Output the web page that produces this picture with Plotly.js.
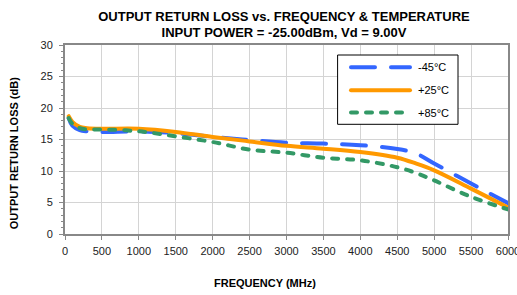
<!DOCTYPE html>
<html>
<head>
<meta charset="utf-8">
<script src="https://cdn.plot.ly/plotly-3.0.1.min.js"></script>
<style>
  html, body { margin: 0; padding: 0; background: #fff; }
  #chart { width: 517px; height: 295px; }
  .scatterlayer path.js-line, .shapelayer path { stroke-linecap: round; stroke-linejoin: round; }
</style>
</head>
<body>
<div id="chart"></div>
<script>
// Frequency points (MHz)
const freq = [50, 100, 200, 300, 500, 1000, 1500, 2000, 2500, 3000, 3500, 4000, 4500, 4750, 5000, 5500, 6000];
// Output return loss (dB) per temperature
const rlMinus45 = [18.4, 17.2, 16.5, 16.3, 16.2, 16.3, 16.0, 15.4, 14.9, 14.5, 14.35, 14.1, 13.5, 12.8, 11.2, 8.0, 4.9];
const rlPlus25  = [18.7, 17.8, 17.0, 16.8, 16.7, 16.7, 16.2, 15.4, 14.7, 14.0, 13.55, 13.0, 12.1, 11.2, 10.1, 7.2, 4.2];
const rlPlus85  = [18.4, 17.5, 16.8, 16.6, 16.6, 16.3, 15.5, 14.6, 13.4, 12.9, 12.1, 11.7, 10.6, 9.7, 8.5, 5.9, 3.9];
const seriesNames = ['-45°C', '+25°C', '+85°C'];
const xTicks = [0, 500, 1000, 1500, 2000, 2500, 3000, 3500, 4000, 4500, 5000, 5500, 6000];
const yTicks = [0, 5, 10, 15, 20, 25, 30];

const colors = ['#3366FF', '#FF9900', '#339966'];
const dashes = ['24px,16px', 'solid', '6px,9px'];
const series = [rlMinus45, rlPlus25, rlPlus85];
const FONT = 'Liberation Sans, Arial, sans-serif';

const traces = series.map((ys, i) => ({
  x: freq, y: ys, name: seriesNames[i], type: 'scatter', mode: 'lines',
  line: { color: colors[i], width: 4, dash: dashes[i], shape: 'spline', smoothing: 1 },
  showlegend: false, hoverinfo: 'skip'
}));

// plot area geometry (px) used only to place legend/titles
const PL = 65, PR = 508, PT = 44.7, PB = 233.7;
const PW = PR - PL, PH = PB - PT;
const px = v => (v - PL) / PW;
const py = v => (PB - v) / PH;

// Manual legend (box, samples, labels) in paper coordinates
const rowY = [67, 90, 112.3];
const shapes = [{
  type: 'rect', xref: 'paper', yref: 'paper', x0: px(338), x1: px(458), y0: py(124), y1: py(54.7),
  line: { color: '#000', width: 1 }, fillcolor: '#fff', layer: 'above'
}];
const annotations = [];
seriesNames.forEach((n, i) => {
  shapes.push({
    type: 'line', xref: 'paper', yref: 'paper', x0: px(351), x1: px(410), y0: py(rowY[i]), y1: py(rowY[i]),
    line: { color: colors[i], width: 4, dash: dashes[i] }, layer: 'above'
  });
  annotations.push({
    xref: 'paper', yref: 'paper', x: px(416), y: py(rowY[i]), xanchor: 'left', yanchor: 'middle',
    text: n, showarrow: false, font: { family: FONT, size: 11, color: '#000' }
  });
});
annotations.push({
  xref: 'paper', yref: 'paper', x: px(265), y: py(283), xanchor: 'center', yanchor: 'middle',
  text: '<b>FREQUENCY (MHz)</b>', showarrow: false,
  font: { family: FONT, size: 11, color: '#000' }
});
annotations.push({
  xref: 'paper', yref: 'paper', x: px(13.5), y: py(153.5), xanchor: 'center', yanchor: 'middle',
  text: '<b>OUTPUT RETURN LOSS (dB)</b>', showarrow: false, textangle: -90,
  font: { family: FONT, size: 11, color: '#000' }
});

const axisCommon = {
  showline: true, linecolor: '#888', linewidth: 2, mirror: true,
  showgrid: true, gridcolor: '#d4d4d4', gridwidth: 1, zeroline: false,
  ticks: 'outside', ticklen: 4, tickcolor: '#888', tickwidth: 1,
  tickfont: { family: FONT, size: 11, color: '#222' },
  ticklabeloverflow: 'allow',
  fixedrange: true
};

const layout = {
  width: 517, height: 295,
  margin: { l: PL, r: 517 - PR, t: PT, b: 295 - PB, pad: 0 },
  paper_bgcolor: '#fff', plot_bgcolor: '#fff',
  title: {
    text: '<b>OUTPUT RETURN LOSS vs. FREQUENCY &amp; TEMPERATURE<br>INPUT POWER = -25.00dBm, Vd = 9.00V</b>',
    x: 284 / 517, xanchor: 'center', y: 1 - 20.5 / 295, yanchor: 'middle',
    font: { family: FONT, size: 13, color: '#000' }
  },
  xaxis: Object.assign({}, axisCommon, {
    range: [0, 6000], tickmode: 'array', tickvals: xTicks, ticktext: xTicks.map(String),
    ticklabelstandoff: 2
  }),
  yaxis: Object.assign({}, axisCommon, {
    range: [0, 30], tickmode: 'array', tickvals: yTicks, ticktext: yTicks.map(String),
    ticklabelstandoff: 4,
    minor: { dtick: 1, ticks: 'outside', ticklen: 2, tickcolor: '#888', showgrid: false }
  }),
  shapes: shapes,
  annotations: annotations,
  showlegend: false
};

Plotly.newPlot('chart', traces, layout, { staticPlot: true, displayModeBar: false });
</script>
</body>
</html>
